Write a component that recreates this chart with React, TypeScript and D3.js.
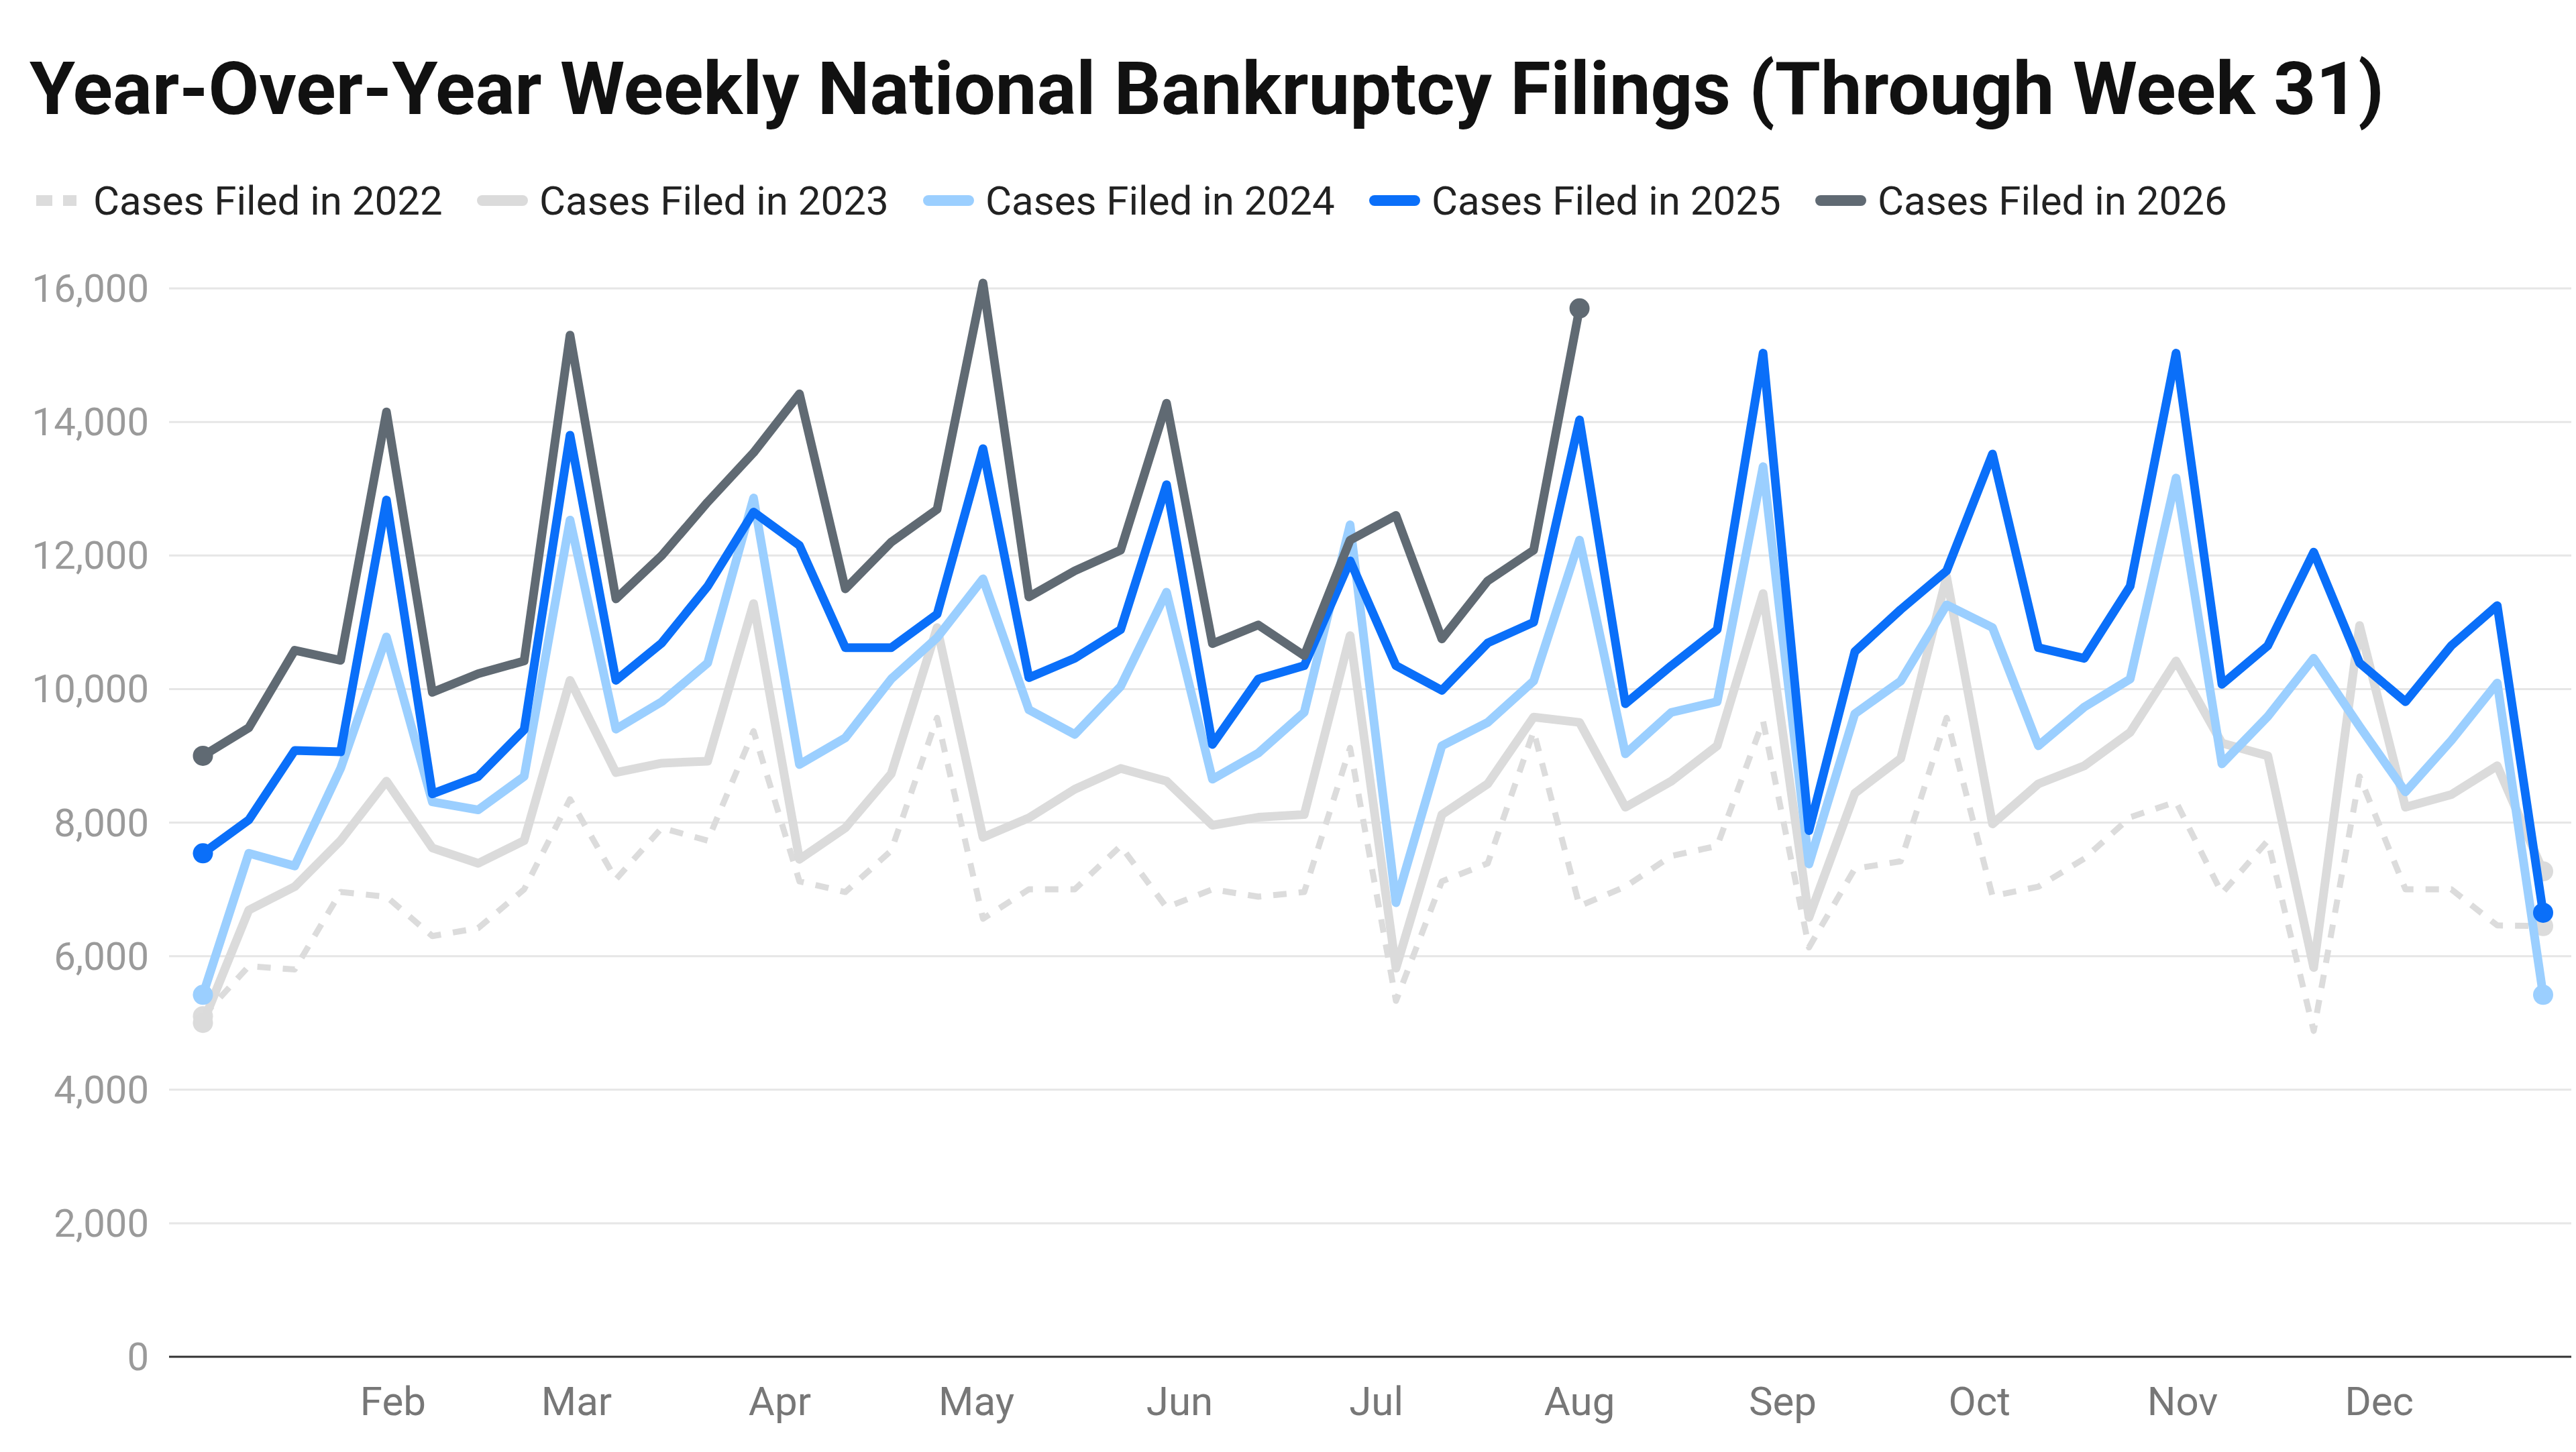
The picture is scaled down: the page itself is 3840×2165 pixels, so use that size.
import { useEffect, useRef } from "react";
import * as d3 from "d3";

// weekly national bankruptcy filings, week 1 = week ending Jan 3
const cases2022 = [5100, 5850, 5800, 6960, 6890, 6300, 6420, 7000, 8350, 7150, 7920, 7730, 9370, 7120, 6960, 7580, 9570, 6560, 7000, 7000, 7650, 6730, 7000, 6890, 6960, 9120, 5330, 7120, 7390, 9370, 6750, 7040, 7500, 7650, 9520, 6130, 7310, 7420, 9570, 6900, 7040, 7460, 8080, 8310, 6940, 7730, 4880, 8690, 7000, 7000, 6460, 6450];
const cases2023 = [5000, 6690, 7040, 7730, 8620, 7620, 7390, 7730, 10130, 8750, 8890, 8920, 11280, 7450, 7920, 8730, 10920, 7780, 8070, 8500, 8810, 8620, 7960, 8080, 8120, 10800, 5820, 8120, 8580, 9580, 9500, 8230, 8620, 9150, 11430, 6580, 8440, 8960, 11680, 7980, 8580, 8850, 9350, 10420, 9190, 9000, 5830, 10950, 8230, 8420, 8850, 7270];
const cases2024 = [5420, 7540, 7350, 8810, 10780, 8310, 8190, 8690, 12530, 9400, 9810, 10390, 12860, 8870, 9270, 10150, 10770, 11650, 9690, 9320, 10040, 11450, 8650, 9040, 9650, 12460, 6800, 9150, 9500, 10120, 12230, 9030, 9650, 9810, 13330, 7380, 9630, 10120, 11260, 10920, 9150, 9730, 10150, 13160, 8880, 9590, 10460, 9440, 8460, 9230, 10090, 5420];
const cases2025 = [7540, 8040, 9080, 9060, 12830, 8430, 8690, 9390, 13800, 10130, 10690, 11540, 12650, 12150, 10620, 10620, 11120, 13600, 10170, 10460, 10890, 13060, 9170, 10150, 10350, 11920, 10350, 9980, 10690, 11000, 14030, 9780, 10350, 10890, 15030, 7880, 10560, 11190, 11770, 13520, 10620, 10460, 11540, 15030, 10070, 10650, 12050, 10390, 9810, 10650, 11250, 6650];
const cases2026 = [9000, 9420, 10580, 10430, 14150, 9950, 10230, 10420, 15300, 11350, 12000, 12800, 13540, 14420, 11500, 12200, 12690, 16080, 11380, 11770, 12080, 14280, 10680, 10960, 10500, 12230, 12600, 10750, 11620, 12080, 15700];

const monthLabels = ["Feb", "Mar", "Apr", "May", "Jun", "Jul", "Aug", "Sep", "Oct", "Nov", "Dec"];
const yTicks = [0, 2000, 4000, 6000, 8000, 10000, 12000, 14000, 16000];

const series = [
  { name: "Cases Filed in 2022", values: cases2022, color: "#dcdcdc", dash: "20 18", width: 9 },
  { name: "Cases Filed in 2023", values: cases2023, color: "#dbdbdb", dash: null, width: 13 },
  { name: "Cases Filed in 2024", values: cases2024, color: "#9bcfff", dash: null, width: 13 },
  { name: "Cases Filed in 2025", values: cases2025, color: "#0a6ff9", dash: null, width: 13 },
  { name: "Cases Filed in 2026", values: cases2026, color: "#606a73", dash: null, width: 13 },
];

const W = 3840;
const H = 2165;
const FONT = "Roboto, sans-serif";

const App = () => {
  const svgRef = useRef(null);

  useEffect(() => {
    document.body.style.margin = "0";
    if (!svgRef.current) return;
    const svg = d3.select(svgRef.current);
    svg.selectAll("*").remove();

    const left = 252;
    const right = 3833;
    const weekOne = new Date(2026, 0, 3);
    const weekDate = (i) => d3.timeDay.offset(weekOne, i * 7);

    const x = d3
      .scaleTime()
      .domain([weekDate(0), weekDate(51)])
      .range([302.5, 3791]);
    const y = d3.scaleLinear().domain([0, 16000]).range([2023, 430]);

    svg
      .append("rect")
      .attr("width", W)
      .attr("height", H)
      .attr("fill", "#fff");

    // title
    svg
      .append("text")
      .attr("x", 44)
      .attr("y", 170)
      .attr("font-family", FONT)
      .attr("font-weight", 700)
      .attr("font-size", 110)
      .attr("fill", "#111")
      .text("Year-Over-Year Weekly National Bankruptcy Filings (Through Week 31)");

    // legend
    const legend = svg
      .append("g")
      .selectAll("g")
      .data(series)
      .join("g")
      .attr("transform", (d, i) => `translate(${50 + i * 665},299)`);
    legend
      .append("line")
      .attr("x1", 4)
      .attr("x2", 64)
      .attr("stroke", (d) => d.color)
      .attr("stroke-width", 16)
      .attr("stroke-linecap", (d) => (d.dash ? "butt" : "round"))
      .attr("stroke-dasharray", (d) => (d.dash ? "24 16" : null));
    legend
      .append("text")
      .attr("x", 89)
      .attr("y", 21)
      .attr("font-family", FONT)
      .attr("font-size", 60)
      .attr("fill", "#222")
      .text((d) => d.name);

    // y grid + labels
    const yg = svg.append("g");
    yg.selectAll("line")
      .data(yTicks.filter((t) => t > 0))
      .join("line")
      .attr("x1", left)
      .attr("x2", right)
      .attr("y1", (d) => y(d))
      .attr("y2", (d) => y(d))
      .attr("stroke", "#e6e6e6")
      .attr("stroke-width", 3);
    yg.selectAll("text")
      .data(yTicks)
      .join("text")
      .attr("x", 222)
      .attr("y", (d) => y(d) + 20)
      .attr("text-anchor", "end")
      .attr("font-family", FONT)
      .attr("font-size", 58)
      .attr("fill", "#9a9a9a")
      .text((d) => d3.format(",")(d));

    // x axis
    svg
      .append("line")
      .attr("x1", left)
      .attr("x2", right)
      .attr("y1", y(0))
      .attr("y2", y(0))
      .attr("stroke", "#333")
      .attr("stroke-width", 3);
    svg
      .append("g")
      .selectAll("text")
      .data(monthLabels)
      .join("text")
      .attr("x", (d, i) => x(new Date(2026, i + 1, 1)))
      .attr("y", 2110)
      .attr("text-anchor", "middle")
      .attr("font-family", FONT)
      .attr("font-size", 60)
      .attr("fill", "#777")
      .text((d) => d);

    // lines
    const line = d3
      .line()
      .x((d, i) => x(weekDate(i)))
      .y((d) => y(d));

    const g = svg.append("g");
    series.forEach((s) => {
      g.append("path")
        .datum(s.values)
        .attr("fill", "none")
        .attr("stroke", s.color)
        .attr("stroke-width", s.width)
        .attr("stroke-linejoin", "round")
        .attr("stroke-linecap", s.dash ? "butt" : "round")
        .attr("stroke-dasharray", s.dash)
        .attr("d", line);
      const ends = [0, s.values.length - 1];
      g.selectAll(null)
        .data(ends)
        .join("circle")
        .attr("cx", (i) => x(weekDate(i)))
        .attr("cy", (i) => y(s.values[i]))
        .attr("r", 15)
        .attr("fill", s.color);
    });
  }, []);

  return <svg ref={svgRef} width={W} height={H} style={{ display: "block" }} />;
};

export default App;
